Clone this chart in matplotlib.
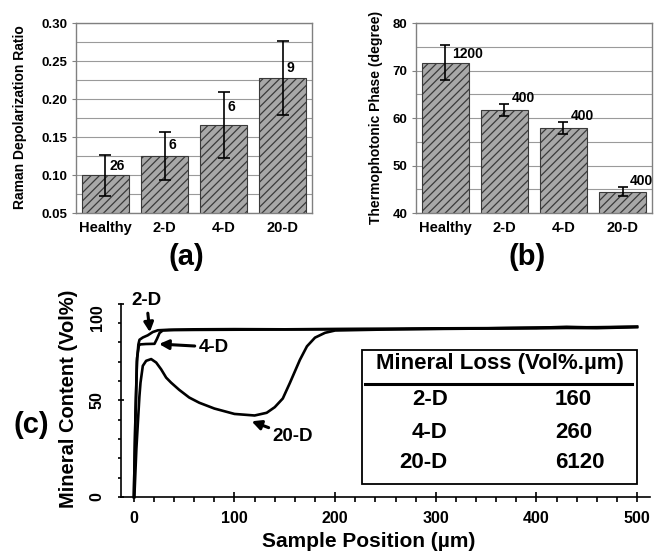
import numpy as np
import matplotlib
matplotlib.use("Agg")
import matplotlib.pyplot as plt
from matplotlib.ticker import MultipleLocator, FormatStrFormatter
from matplotlib.patches import Rectangle

plt.rcParams["font.family"] = ["Liberation Sans", "DejaVu Sans"]
plt.rcParams["font.weight"] = "bold"
plt.rcParams["hatch.color"] = "#3a3a3a"
plt.rcParams["hatch.linewidth"] = 0.9

# --- data ---
groups = ["Healthy", "2-D", "4-D", "20-D"]
raman_mean = [0.0995, 0.1255, 0.1655, 0.2275]
raman_err = [0.0275, 0.0315, 0.0435, 0.0485]
raman_n = ["26", "6", "6", "9"]

phase_mean = [71.7, 61.7, 57.9, 44.5]
phase_err = [3.6, 1.2, 1.2, 0.9]
phase_n = ["1200", "400", "400", "400"]

pos_2d = [0, 1.5, 3, 4.5, 5.6, 9, 13.8, 18.8, 23.9, 35, 60, 100, 150, 200,
          250, 300, 350, 400, 430, 460, 500]
min_2d = [0, 40, 70, 79, 81.4, 82.6, 83.7, 85.4, 86.3, 86.6, 86.8, 86.9, 86.8,
          87.0, 87.1, 87.3, 87.4, 87.6, 88.1, 87.7, 88.1]
pos_4d = [0, 1.5, 3.2, 5, 6.6, 12, 20.5, 23, 25.5, 28.7, 40, 60, 100, 150,
          200, 250, 300, 350, 400, 430, 460, 500]
min_4d = [0, 40, 72, 78.5, 79, 79.2, 79.3, 81.9, 84.9, 86.2, 86.4, 86.5, 86.6,
          86.7, 86.8, 86.9, 87.0, 87.2, 87.3, 87.5, 87.4, 87.9]
pos_20d = [0.5, 2.5, 4, 5.5, 6.6, 8.9, 12.2, 17.2, 22.2, 27.1, 32.1, 37, 45,
           55, 65, 80, 100, 120, 132, 140, 148, 155, 160, 165, 172, 180, 190,
           200, 250, 300, 350, 400, 430, 460, 500]
min_20d = [0, 25, 38.5, 52, 59.2, 67.9, 70.5, 71.4, 69.6, 66.1, 61.8, 59.2,
           55.5, 51.5, 48.8, 45.8, 43, 42.2, 43.6, 46.5, 51, 59, 65, 71, 78,
           82.5, 85, 86.2, 86.7, 87.1, 87.3, 87.7, 87.8, 87.9, 88.2]

loss_groups = ["2-D", "4-D", "20-D"]
loss_values = ["160", "260", "6120"]

fig = plt.figure(figsize=(6.6, 5.52), dpi=100)


def bar_panel(ax, means, errs, counts, cap, dx, lifts):
    x = np.arange(len(groups))
    ax.bar(x, means, width=0.8, color="#a8a8a8", edgecolor="#3a3a3a",
           hatch="////", linewidth=0.8, zorder=2)
    ax.errorbar(x, means, yerr=errs, fmt="none", ecolor="black",
                elinewidth=1.2, capsize=cap, capthick=1.2, zorder=3)
    for xi, m, n, lift in zip(x, means, counts, lifts):
        ax.annotate(n, (xi, m), xytext=(dx, lift), textcoords="offset points",
                    ha="left", va="bottom", fontsize=10, fontweight="bold",
                    zorder=4)
    ax.set_xticks(x)
    ax.set_xticklabels(groups)
    ax.set_xlim(-0.5, 3.5)
    ax.grid(axis="y", which="both", color="#9a9a9a", lw=0.8)
    ax.set_axisbelow(True)
    for s in ax.spines.values():
        s.set_color("#808080")
        s.set_linewidth(1.0)
    ax.tick_params(axis="x", length=0, labelsize=10.5, pad=6)
    ax.tick_params(axis="y", which="major", length=3, color="#808080",
                   labelsize=9.5, pad=3)
    ax.tick_params(axis="y", which="minor", length=0)


# (a) Raman depolarization ratio
ax_a = fig.add_axes([0.115, 0.614, 0.358, 0.344])
bar_panel(ax_a, raman_mean, raman_err, raman_n, 4.3, 3, [1.5, 2.5, 8.5, 2.5])
ax_a.set_ylim(0.05, 0.30)
ax_a.yaxis.set_major_locator(MultipleLocator(0.05))
ax_a.yaxis.set_minor_locator(MultipleLocator(0.025))
ax_a.yaxis.set_major_formatter(FormatStrFormatter("%.2f"))
ax_a.set_ylabel("Raman Depolarization Ratio", fontsize=10, fontweight="bold")
ax_a.yaxis.set_label_coords(-0.208, 0.505)

# (b) Thermophotonic phase
ax_b = fig.add_axes([0.630, 0.614, 0.358, 0.344])
bar_panel(ax_b, phase_mean, phase_err, phase_n, 3.6, 5, [1.5, 3.5, 3.5, 3])
ax_b.set_ylim(40, 80)
ax_b.yaxis.set_major_locator(MultipleLocator(10))
ax_b.yaxis.set_minor_locator(MultipleLocator(5))
ax_b.set_ylabel("Thermophotonic Phase (degree)", fontsize=10,
                fontweight="bold")
ax_b.yaxis.set_label_coords(-0.14, 0.505)

fig.text(0.283, 0.534, "(a)", fontsize=21, fontweight="bold",
         ha="center", va="center")
fig.text(0.798, 0.534, "(b)", fontsize=21, fontweight="bold",
         ha="center", va="center")
fig.text(0.047, 0.230, "(c)", fontsize=21, fontweight="bold",
         ha="center", va="center")

# (c) mineral content profiles
ax_c = fig.add_axes([0.183, 0.0996, 0.802, 0.350])
for pos, vals in [(pos_2d, min_2d), (pos_4d, min_4d), (pos_20d, min_20d)]:
    ax_c.plot(pos, vals, color="black", lw=1.9, solid_joinstyle="round",
              clip_on=False)
ax_c.set_xlim(-13, 513)
ax_c.set_ylim(0, 100)
ax_c.spines["top"].set_visible(False)
ax_c.spines["right"].set_visible(False)
ax_c.spines["left"].set_linewidth(1.2)
ax_c.spines["bottom"].set_linewidth(1.2)
ax_c.set_xticks([0, 100, 200, 300, 400, 500])
ax_c.xaxis.set_minor_locator(MultipleLocator(20))
ax_c.set_yticks([0, 50, 100])
ax_c.set_yticklabels(["0", "50", "100"], rotation=90, va="center")
ax_c.get_yticklabels()[-1].set_va("top")
ax_c.yaxis.set_minor_locator(MultipleLocator(10))
ax_c.tick_params(axis="x", which="major", direction="inout", length=6.5,
                 width=1.2, pad=7, labelsize=11.5)
ax_c.tick_params(axis="x", which="minor", direction="out", length=3.5,
                 width=1.2)
ax_c.tick_params(axis="y", which="major", direction="inout", length=5,
                 width=1.2, pad=9, labelsize=11.5)
ax_c.tick_params(axis="y", which="minor", direction="out", length=2.5,
                 width=1.2)
ax_c.set_xlabel("Sample Position (\u00b5m)", fontsize=15, fontweight="bold")
ax_c.xaxis.set_label_coords(0.469, -0.18)
ax_c.set_ylabel("Mineral Content (Vol%)", fontsize=14.5, fontweight="bold")
ax_c.yaxis.set_label_coords(-0.081, 0.51)

arrow = dict(arrowstyle="-|>", color="black", lw=2.2, mutation_scale=14,
             shrinkA=1, shrinkB=0)
ax_c.annotate("2-D", xy=(15.9, 85.3), xytext=(12.5, 101.7), ha="center",
              va="center", fontsize=13.5, fontweight="bold",
              arrowprops=arrow, annotation_clip=False)
ax_c.annotate("4-D", xy=(25, 79.2), xytext=(64.6, 77.6), ha="left",
              va="center", fontsize=13.5, fontweight="bold",
              arrowprops=arrow, annotation_clip=False)
ax_c.annotate("20-D", xy=(117, 39.2), xytext=(138, 31.2), ha="left",
              va="center", fontsize=13.5, fontweight="bold",
              arrowprops=arrow, annotation_clip=False)

# mineral loss table
ax_c.add_patch(Rectangle((226.6, 6.8), 273.4, 69.2, fill=False, lw=1.3,
                         ec="black", zorder=5))
ax_c.plot([229.6, 495], [58.3, 58.3], color="black", lw=2.2, zorder=5)
ax_c.text(363.4, 69.3, "Mineral Loss (Vol%.\u00b5m)", ha="center",
          va="center", fontsize=16, fontweight="bold")
row_y = [50.5, 33.3, 17.7]
for g, v, yy in zip(loss_groups, loss_values, row_y):
    ax_c.text(312, yy, g, ha="right", va="center", fontsize=16,
              fontweight="bold")
    ax_c.text(418.5, yy, v, ha="left", va="center", fontsize=16,
              fontweight="bold")

fig.savefig("out.png", dpi=100)
